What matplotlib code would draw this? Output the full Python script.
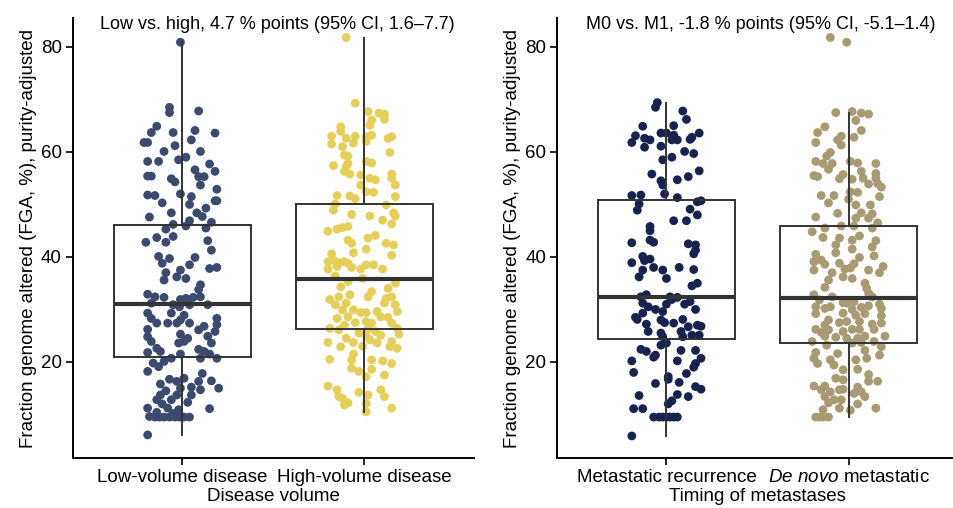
import matplotlib
matplotlib.use('Agg')
import matplotlib.pyplot as plt

plt.rcParams['font.family'] = ['Liberation Sans', 'DejaVu Sans']
plt.rcParams['mathtext.fontset'] = 'custom'
plt.rcParams['mathtext.it'] = 'Liberation Sans:italic'
plt.rcParams['mathtext.rm'] = 'Liberation Sans'

# (FGA %, horizontal jitter)
low_volume = [(80.9,-0.01),(68.5,-0.07),(67.5,-0.07),(67.8,0.09),(64.9,-0.14),(63.7,-0.17),(63.7,-0.05),(64.1,0.07),(63.6,0.18),(61.8,-0.21),(61.8,-0.19),(62.3,0.05),(61.2,-0.04),(60.1,-0.10),(60.1,0.10),(59.0,0.02),(58.5,-0.02),(58.2,-0.19),(58.2,-0.13),(57.7,0.15),(56.6,0.07),(56.3,0.18),(55.4,-0.19),(55.4,-0.17),(54.9,-0.06),(55.3,0.09),(55.3,0.12),(54.3,-0.04),(53.7,0.10),(52.9,0.19),(52.0,-0.01),(51.8,-0.19),(51.7,-0.15),(51.5,0.05),(50.7,0.18),(50.7,0.19),(50.3,-0.11),(50.0,0.04),(49.3,0.13),(48.4,-0.06),(48.4,0.08),(47.6,-0.18),(47.7,0.11),(46.9,0.04),(46.6,0.16),(46.2,-0.05),(45.9,0.02),(45.5,0.13),(45.3,-0.09),(43.9,-0.05),(43.7,-0.14),(42.8,-0.20),(42.8,-0.09),(43.1,0.14),(41.3,0.16),(40.1,-0.13),(39.7,-0.07),(39.9,0.07),(38.8,-0.11),(38.5,0.04),(37.8,0.15),(38.0,0.19),(37.5,-0.01),(37.0,-0.09),(36.2,-0.03),(35.9,0.02),(35.6,-0.10),(34.7,0.10),(33.8,0.09),(32.9,-0.19),(32.4,-0.15),(32.3,-0.10),(31.9,-0.01),(32.1,0.02),(32.3,0.06),(32.4,0.10),(30.9,0.14),(31.2,-0.17),(30.9,-0.05),(30.5,-0.015),(30.9,0.04),(29.3,-0.19),(29.3,-0.06),(28.9,0.01),(28.3,-0.17),(28.3,0.19),(27.4,-0.14),(27.4,-0.08),(27.4,-0.03),(28.0,-0.01),(27.4,0.04),(27.1,0.19),(26.8,0.12),(26.2,-0.19),(26.1,0.09),(25.8,0.18),(25.3,-0.01),(24.8,-0.19),(24.5,0.03),(24.9,0.14),(23.9,-0.17),(23.6,-0.02),(23.9,0.01),(23.6,0.16),(22.6,-0.14),(22.4,0.09),(22.0,0.12),(21.8,-0.19),(22.0,-0.12),(21.5,-0.01),(21.5,0.15),(20.7,-0.06),(20.7,0.10),(20.7,0.19),(20.1,-0.10),(19.8,-0.16),(19.1,-0.13),(18.2,-0.19),(17.8,0.11),(16.9,0.01),(16.7,-0.07),(16.3,-0.03),(15.8,-0.12),(16.3,0.09),(16.4,0.16),(15.0,0.20),(15.0,-0.01),(15.2,0.05),(14.5,-0.09),(14.7,0.10),(13.7,-0.12),(13.7,-0.03),(13.7,0.05),(12.8,-0.14),(12.8,-0.06),(12.0,-0.11),(12.3,0.03),(11.2,-0.19),(11.2,-0.08),(10.9,-0.02),(11.1,0.15),(9.6,-0.18),(9.5,-0.15),(9.5,-0.125),(9.5,-0.10),(9.5,-0.07),(9.5,-0.04),(9.5,-0.015),(9.5,0.01),(9.5,0.04),(10.4,-0.14),(10.2,-0.05),(6.1,-0.19)]

high_volume = [(81.8,-0.10),(69.3,-0.05),(67.7,0.02),(67.4,0.08),(67.2,0.11),(66.2,0.11),(66.1,0.04),(65.1,0.03),(64.8,-0.13),(63.9,-0.13),(63.0,-0.18),(62.6,-0.10),(63.0,-0.05),(62.9,0.01),(63.2,0.04),(62.6,0.13),(62.9,0.15),(61.5,-0.18),(61.0,-0.12),(61.7,-0.06),(62.0,0.01),(59.4,-0.11),(59.2,-0.09),(59.9,0.14),(57.4,-0.17),(57.2,-0.10),(57.8,-0.09),(58.2,0.01),(57.9,0.04),(56.3,-0.11),(55.8,-0.08),(55.6,-0.02),(55.0,0.03),(54.7,0.06),(55.8,0.15),(55.0,0.15),(53.7,-0.02),(53.7,0.17),(52.4,0.01),(52.3,0.05),(51.7,-0.15),(51.6,-0.08),(51.1,-0.05),(51.5,0.17),(49.9,0.12),(50.1,-0.16),(48.9,-0.17),(48.1,-0.07),(47.8,0.03),(48.4,0.16),(47.8,0.17),(47.0,0.10),(46.3,0.15),(44.9,-0.20),(45.3,-0.15),(45.6,-0.12),(45.8,-0.09),(43.2,-0.09),(43.6,0.02),(44.1,0.06),(42.6,-0.07),(42.6,0.12),(42.3,0.16),(41.5,0.01),(40.8,-0.06),(40.3,0.15),(40.6,-0.18),(39.1,-0.20),(39.4,-0.17),(38.9,-0.14),(39.1,-0.11),(38.8,-0.09),(38.0,-0.07),(38.2,-0.15),(37.7,-0.20),(37.7,-0.02),(38.5,0.01),(38.5,0.05),(37.7,0.10),(36.4,-0.16),(35.9,-0.01),(35.3,-0.09),(34.3,-0.13),(34.0,0.13),(35.0,0.17),(33.4,0.04),(32.4,0.02),(31.9,-0.19),(32.4,-0.14),(32.8,-0.08),(32.1,0.12),(32.4,0.15),(30.9,-0.16),(31.2,-0.10),(30.9,0.17),(31.2,0.11),(29.9,-0.12),(29.9,-0.06),(29.4,-0.02),(29.4,0.01),(29.6,0.07),(29.6,0.18),(28.3,-0.15),(28.6,-0.09),(28.6,0.09),(28.5,0.13),(27.5,-0.05),(27.7,0.01),(27.4,0.04),(27.4,0.15),(26.4,-0.19),(27.0,-0.11),(26.1,-0.14),(26.4,0.02),(25.8,0.06),(26.4,0.18),(25.5,-0.03),(25.1,0.01),(25.1,0.09),(25.3,0.19),(24.5,-0.10),(24.2,0.03),(23.6,0.07),(23.7,-0.20),(23.7,-0.06),(23.9,0.15),(22.9,-0.13),(23.0,-0.01),(22.9,0.14),(22.6,0.18),(21.5,-0.06),(20.5,-0.19),(20.4,-0.07),(20.4,0.04),(20.2,0.10),(19.7,0.15),(18.8,-0.07),(18.2,-0.03),(18.6,0.04),(17.5,0.11),(17.2,0.01),(15.4,-0.20),(14.7,-0.15),(14.2,-0.03),(14.7,0.09),(13.7,0.02),(13.4,-0.14),(13.1,-0.12),(13.4,0.11),(12.2,-0.09),(11.8,-0.11),(12.1,0.01),(11.2,0.15),(10.5,0.01)]

metastatic_recurrence = [(69.4,-0.05),(68.5,-0.06),(67.8,0.09),(66.2,0.11),(64.9,-0.13),(65.0,0.04),(63.1,-0.17),(62.6,-0.12),(62.3,-0.09),(63.6,-0.03),(63.6,0.0),(63.2,0.04),(62.3,0.06),(62.8,0.14),(63.6,0.18),(61.8,-0.19),(60.9,-0.12),(61.1,-0.03),(62.3,0.03),(62.4,0.13),(58.5,-0.02),(59.0,0.03),(60.1,0.10),(59.7,0.15),(55.8,-0.08),(54.5,-0.03),(53.7,-0.02),(54.7,0.06),(55.3,0.12),(56.4,0.18),(51.7,-0.19),(51.8,-0.14),(52.0,-0.01),(51.3,0.06),(50.5,0.17),(50.7,0.19),(50.1,-0.15),(48.9,-0.16),(49.1,0.13),(48.0,0.17),(46.9,0.04),(46.9,0.11),(45.8,-0.09),(45.0,-0.09),(42.7,-0.19),(43.2,-0.09),(42.8,-0.07),(42.5,0.12),(42.3,0.16),(41.3,0.16),(40.6,0.15),(40.1,-0.13),(38.9,-0.19),(39.3,-0.12),(39.6,-0.09),(38.0,-0.07),(37.5,-0.02),(38.0,0.07),(37.6,0.15),(37.5,-0.13),(36.2,-0.15),(35.9,0.0),(34.5,0.14),(35.0,0.17),(32.4,-0.14),(32.8,-0.11),(32.4,0.02),(32.3,0.06),(31.2,-0.13),(30.5,-0.10),(30.0,-0.06),(31.0,0.0),(31.9,0.03),(31.0,0.10),(31.5,0.13),(29.6,-0.02),(30.0,0.16),(29.3,-0.13),(28.5,-0.17),(28.1,-0.16),(28.0,-0.03),(27.2,-0.11),(27.5,-0.01),(27.4,0.04),(28.1,0.09),(26.7,0.12),(27.0,0.17),(26.8,0.19),(25.8,-0.10),(25.5,-0.03),(24.8,-0.02),(25.8,0.08),(24.8,0.09),(25.1,0.14),(25.1,0.18),(23.2,-0.03),(23.6,0.0),(22.4,-0.14),(22.0,-0.11),(20.9,-0.07),(21.3,-0.06),(22.2,0.08),(22.2,0.16),(20.2,-0.19),(20.2,0.06),(20.7,0.19),(19.7,0.16),(19.0,0.15),(18.0,-0.18),(17.8,0.11),(17.2,0.01),(16.7,0.01),(15.9,-0.06),(16.1,0.07),(15.3,0.16),(14.8,0.19),(13.6,-0.15),(13.8,0.06),(13.4,0.12),(12.6,0.03),(12.0,0.01),(11.1,-0.18),(11.1,-0.13),(9.5,-0.07),(9.5,-0.04),(9.5,-0.02),(9.5,0.0),(9.5,0.02),(9.5,0.04),(9.5,0.06),(5.9,-0.19)]

de_novo = [(81.8,-0.10),(80.9,-0.01),(67.5,-0.07),(67.7,0.02),(67.4,0.07),(67.2,0.11),(66.0,0.04),(64.8,-0.13),(63.7,-0.17),(64.1,0.07),(63.0,-0.04),(62.3,-0.06),(62.8,0.03),(61.8,-0.18),(61.3,-0.04),(59.9,-0.10),(59.2,-0.12),(58.2,-0.18),(57.8,-0.14),(57.8,-0.09),(58.2,0.01),(57.9,0.05),(57.8,0.15),(56.7,-0.11),(55.5,-0.19),(55.3,-0.17),(55.7,-0.03),(56.3,0.07),(55.9,0.15),(54.9,-0.05),(54.8,0.02),(55.0,0.08),(53.9,0.11),(54.0,0.16),(53.3,0.18),(55.0,0.15),(52.4,0.01),(52.3,0.05),(51.7,-0.15),(51.7,-0.08),(51.5,0.17),(51.0,0.0),(50.3,-0.11),(49.9,0.04),(49.9,0.12),(48.3,-0.06),(48.4,0.07),(48.2,0.13),(47.6,-0.18),(47.4,0.04),(47.4,0.11),(46.5,0.16),(45.5,0.13),(45.9,-0.04),(45.9,0.03),(45.5,-0.13),(44.8,-0.20),(43.7,-0.14),(43.6,-0.05),(44.0,0.06),(43.2,0.02),(43.1,0.15),(42.3,-0.07),(41.9,0.13),(41.5,0.02),(40.5,-0.18),(40.8,-0.07),(39.9,0.06),(40.2,0.14),(39.1,-0.19),(39.4,-0.15),(38.6,-0.13),(38.8,-0.05),(38.7,0.03),(38.2,0.19),(37.5,-0.19),(37.0,-0.09),(37.7,-0.02),(37.9,0.01),(37.5,0.11),(37.0,0.17),(36.2,-0.03),(35.9,0.02),(35.6,-0.11),(35.0,0.09),(34.2,-0.13),(34.0,0.10),(33.1,0.11),(32.8,-0.19),(31.8,-0.16),(32.4,-0.09),(31.3,-0.03),(31.2,-0.01),(31.5,0.03),(32.4,0.13),(31.0,0.17),(30.5,-0.18),(30.2,-0.13),(30.5,-0.10),(30.0,0.02),(30.4,0.07),(30.7,0.11),(30.2,0.18),(29.2,-0.18),(29.3,-0.03),(28.9,0.04),(29.2,0.09),(28.8,0.18),(28.0,-0.11),(27.0,-0.13),(27.5,-0.05),(27.7,-0.01),(27.7,0.06),(27.2,0.13),(27.4,0.18),(26.2,-0.18),(25.6,-0.15),(26.1,-0.11),(25.8,-0.03),(26.2,0.02),(26.2,0.06),(26.2,0.14),(24.9,0.20),(24.9,-0.13),(24.7,-0.07),(24.5,-0.01),(24.5,0.05),(24.9,0.09),(23.9,-0.20),(23.2,-0.12),(23.6,0.02),(23.7,0.07),(23.9,0.14),(22.9,0.18),(22.2,0.09),(21.3,0.17),(21.8,-0.18),(20.7,-0.19),(19.7,-0.17),(21.6,-0.06),(20.4,-0.10),(20.4,0.04),(20.7,0.10),(19.4,-0.08),(18.5,-0.03),(18.6,0.05),(17.6,0.11),(16.3,0.11),(16.3,0.16),(16.9,-0.07),(16.6,-0.03),(15.4,-0.19),(15.4,-0.13),(14.7,-0.15),(14.3,-0.10),(14.7,-0.05),(14.8,-0.03),(15.2,0.05),(14.3,0.07),(13.4,0.09),(14.0,0.03),(13.4,-0.13),(12.8,-0.08),(12.2,-0.11),(12.8,-0.04),(12.0,0.05),(11.2,-0.05),(10.9,-0.14),(10.8,0.01),(11.2,0.15),(9.5,-0.18),(9.5,-0.16),(9.5,-0.14),(9.5,-0.11)]

# box summaries
left_q1 = [20.9, 26.3]
left_med = [31.0, 35.8]
left_q3 = [46.1, 50.1]
left_lo = [6.1, 10.5]
left_hi = [80.9, 81.8]

right_q1 = [24.4, 23.6]
right_med = [32.4, 32.2]
right_q3 = [50.9, 45.9]
right_lo = [5.9, 9.5]
right_hi = [69.4, 67.5]

left_labels = ['Low-volume disease', 'High-volume disease']
right_labels = ['Metastatic recurrence', r'$\it{De\ novo}$ metastatic']
left_colors = ['#3B4A6E', '#E5CF5A']
right_colors = ['#17224F', '#A89A72']

panels = [
    dict(groups=[low_volume, high_volume], colors=left_colors, labels=left_labels,
         q1=left_q1, med=left_med, q3=left_q3, lo=left_lo, hi=left_hi,
         xlabel='Disease volume',
         note='Low vs. high, 4.7 % points (95% CI, 1.6\u20137.7)',
         rect=[0.0765, 0.0984, 0.42, 0.866]),
    dict(groups=[metastatic_recurrence, de_novo], colors=right_colors, labels=right_labels,
         q1=right_q1, med=right_med, q3=right_q3, lo=right_lo, hi=right_hi,
         xlabel='Timing of metastases',
         note='M0 vs. M1, -1.8 % points (95% CI, -5.1\u20131.4)',
         rect=[0.584, 0.0984, 0.42, 0.866]),
]

fig = plt.figure(figsize=(9.54, 5.08), dpi=100)

for p in panels:
    ax = fig.add_axes(p['rect'])
    for i, (pts, col) in enumerate(zip(p['groups'], p['colors'])):
        ys = [v[0] for v in pts]
        xs = [i + 1 + v[1] for v in pts]
        ax.scatter(xs, ys, s=40, color=col, edgecolors='none', zorder=2)

    stats = []
    for i in range(2):
        stats.append(dict(q1=p['q1'][i], med=p['med'][i], q3=p['q3'][i],
                          whislo=p['lo'][i], whishi=p['hi'][i], fliers=[]))
    ax.bxp(stats, positions=[1, 2], widths=0.75, showcaps=False, showfliers=False,
           patch_artist=True,
           boxprops=dict(facecolor='none', edgecolor='#333333', linewidth=1.4),
           whiskerprops=dict(color='#333333', linewidth=1.4),
           medianprops=dict(color='#333333', linewidth=3),
           zorder=3)

    ax.set_xlim(0.4, 2.6)
    ax.set_ylim(1.7, 85.5)
    ax.set_yticks([20, 40, 60, 80])
    ax.set_xticks([1, 2])
    ax.set_xticklabels(p['labels'], fontsize=13.5)
    ax.tick_params(axis='y', labelsize=13.5)
    ax.tick_params(length=5, width=1.2, color='black', pad=3)
    ax.set_xlabel(p['xlabel'], fontsize=13.5, labelpad=1)
    ax.set_ylabel('Fraction genome altered (FGA, %), purity-adjusted', fontsize=13.5, labelpad=3)
    for s in ['top', 'right']:
        ax.spines[s].set_visible(False)
    for s in ['left', 'bottom']:
        ax.spines[s].set_linewidth(1.4)
    ax.text(1.52, 84.3, p['note'], ha='center', va='center', fontsize=13)

fig.savefig('out.png', dpi=100)
